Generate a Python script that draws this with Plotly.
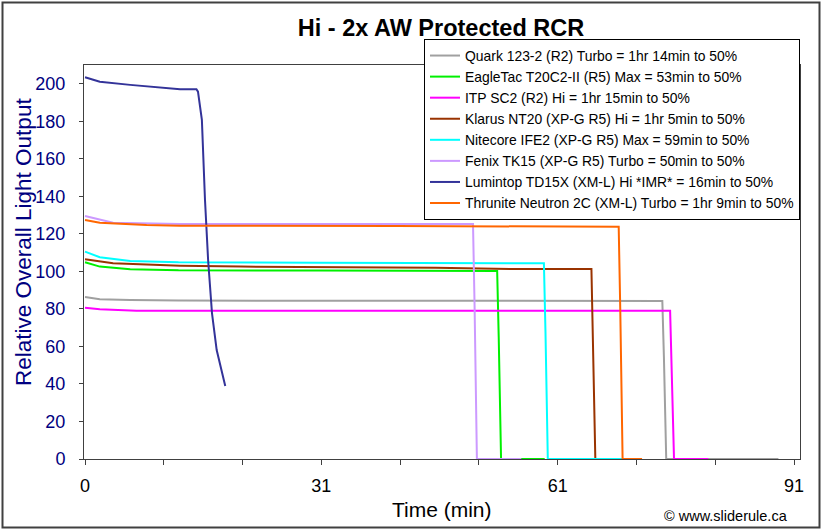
import plotly.graph_objects as go

# ---------------- data ----------------
series_names = [
    "Quark 123-2 (R2) Turbo = 1hr 14min to 50%",
    "EagleTac T20C2-II (R5) Max = 53min to 50%",
    "ITP SC2 (R2) Hi = 1hr 15min to 50%",
    "Klarus NT20 (XP-G R5) Hi = 1hr 5min to 50%",
    "Nitecore IFE2 (XP-G R5) Max = 59min to 50%",
    "Fenix TK15 (XP-G R5) Turbo = 50min to 50%",
    "Lumintop TD15X (XM-L) Hi *IMR* = 16min to 50%",
    "Thrunite Neutron 2C (XM-L) Turbo = 1hr 9min to 50%",
]
series_colors = ["#A0A0A0", "#00F000", "#FF00FF", "#993300",
                 "#00FFFF", "#CC99FF", "#333399", "#FF6600"]

quark_t = [0, 1.9, 5.8, 12, 30, 50, 74.1, 74.3, 74.45, 74.6, 89]
quark_v = [86.4, 85.2, 84.8, 84.5, 84.4, 84.3, 84.3, 55, 25, 0, 0]

eagletac_t = [0, 1.9, 5.8, 12, 30, 52.9, 53.1, 53.25, 53.4, 59]
eagletac_v = [104.9, 102.6, 101.2, 100.6, 100.5, 100.3, 65, 30, 0, 0]

itp_t = [0, 1.9, 6.6, 20, 50, 75.1, 75.3, 75.45, 75.6, 80]
itp_v = [80.7, 79.8, 79.1, 79.0, 79.0, 79.0, 52, 24, 0, 0]

klarus_t = [0, 3.6, 12.2, 20, 45, 55, 65.0, 65.2, 65.35, 65.5, 70]
klarus_v = [106.5, 104.4, 103.1, 102.6, 102.0, 101.3, 101.3, 66, 30, 0, 0]

nitecore_t = [0, 1.9, 5.8, 12, 30, 58.9, 59.1, 59.25, 59.4, 71]
nitecore_v = [110.6, 107.6, 105.6, 104.9, 104.6, 104.4, 68, 32, 0, 0]

fenix_t = [0, 3.6, 12.2, 30, 49.8, 50.0, 50.15, 50.3, 56]
fenix_v = [129.6, 126.0, 125.3, 125.3, 125.3, 82, 38, 0, 0]

lumintop_t = [0, 1.9, 5.8, 12.2, 14.3, 14.5, 15.0, 15.4, 15.8, 16.3, 16.9, 18.0]
lumintop_v = [203.6, 201.2, 199.5, 197.2, 197.2, 195.9, 180.8, 138.1, 106.1, 77.7, 58.1, 38.9]

thrunite_t = [0, 1.9, 7.9, 12.2, 40, 68.5, 68.7, 68.85, 69.0, 71.5]
thrunite_v = [127.5, 126.0, 124.8, 124.4, 124.2, 123.9, 80, 38, 0, 0]

series_t = [quark_t, eagletac_t, itp_t, klarus_t, nitecore_t, fenix_t, lumintop_t, thrunite_t]
series_v = [quark_v, eagletac_v, itp_v, klarus_v, nitecore_v, fenix_v, lumintop_v, thrunite_v]

x_tick_vals = [i * 91 / 9 for i in range(10)]
x_tick_text = ["0", "", "", "31", "", "", "61", "", "", "91"]
y_tick_vals = [0, 20, 40, 60, 80, 100, 120, 140, 160, 180, 200]

chart_title = "Hi - 2x AW Protected RCR"
x_title = "Time (min)"
y_title = "Relative Overall Light Output"
credit = "© www.sliderule.ca"

# ---------------- figure ----------------
FONT = "Arial, Liberation Sans, sans-serif"
fig = go.Figure()
for name, color, t, v in zip(series_names, series_colors, series_t, series_v):
    fig.add_trace(go.Scatter(x=t, y=v, mode="lines", name=name,
                             line=dict(color=color, width=2)))

L, R, T, B = 84, 22, 65, 71
W, H = 822, 530
pw, ph = W - L - R, H - T - B


def px(xp):
    return (xp - L) / pw


def py(yp):
    return (H - B - yp) / ph


fig.update_layout(
    width=W, height=H,
    margin=dict(l=L, r=R, t=T, b=B),
    paper_bgcolor="white", plot_bgcolor="white",
    font=dict(family=FONT, color="black"),
    title=dict(text="<b>" + chart_title + "</b>", x=441 / W, y=1 - 28 / H,
               xanchor="center", yanchor="middle",
               font=dict(size=23.5, family=FONT, color="black")),
    showlegend=True,
    legend=dict(x=px(424), y=py(39), xanchor="left", yanchor="top",
                bgcolor="white", bordercolor="black", borderwidth=1,
                font=dict(size=13.9, family=FONT, color="black"),
                tracegroupgap=0),
    xaxis=dict(range=[-0.13, 91.77], tickmode="array", tickvals=x_tick_vals,
               ticktext=x_tick_text, ticks="outside", ticklen=5, tickcolor="#404040",
               showgrid=False, zeroline=False, showline=True, linecolor="#404040",
               linewidth=1, mirror=True, ticklabelstandoff=5,
               tickfont=dict(size=18, family=FONT, color="black")),
    yaxis=dict(range=[0, 210.1], tickmode="array", tickvals=y_tick_vals,
               ticks="outside", ticklen=4, tickcolor="#404040",
               showgrid=False, zeroline=False, showline=True, linecolor="#404040",
               linewidth=1, mirror=True, ticklabelstandoff=10,
               tickfont=dict(size=18, family=FONT, color="#000080")),
)

fig.add_annotation(text=y_title, xref="paper", yref="paper", x=px(24), y=py(242),
                   textangle=-90, showarrow=False, xanchor="center", yanchor="middle",
                   font=dict(size=22.5, family=FONT, color="#000080"))
fig.add_annotation(text=x_title, xref="paper", yref="paper", x=px(442), y=py(509),
                   showarrow=False, xanchor="center", yanchor="middle",
                   font=dict(size=21, family=FONT, color="black"))
fig.add_annotation(text=credit, xref="paper", yref="paper", x=px(726), y=py(515.5),
                   showarrow=False, xanchor="center", yanchor="middle",
                   font=dict(size=14.5, family=FONT, color="black"))

# outer chart border
fig.add_shape(type="rect", xref="paper", yref="paper",
              x0=px(2.5), x1=px(819.5), y0=py(527.5), y1=py(2.5),
              line=dict(color="#404040", width=2), layer="below")

fig.write_html("out.html",
               config={"displayModeBar": False},
               post_script="document.body.style.margin='0';"
                           "document.body.style.overflow='hidden';")
